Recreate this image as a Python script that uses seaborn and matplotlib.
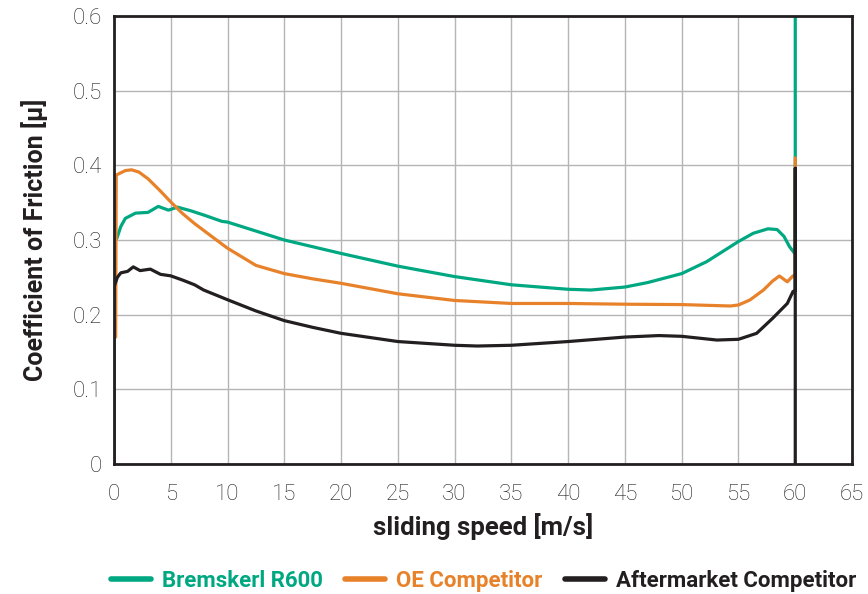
import pandas as pd
import matplotlib
matplotlib.use("Agg")
import matplotlib.pyplot as plt
import seaborn as sns
from matplotlib.ticker import FuncFormatter, MultipleLocator

r600_x = [0.25, 0.6, 1.0, 1.9, 3.0, 3.9, 4.8, 5.6, 6.8, 8.0, 9.5, 10.0, 12.5, 15, 17.5, 20,
          25, 30, 35, 40, 42, 45, 47, 50, 52.2, 55, 56.3, 57.6, 58.4, 59.0, 59.5, 59.9, 60, 60]
r600_y = [0.302, 0.318, 0.329, 0.336, 0.337, 0.345, 0.340, 0.344, 0.339, 0.333, 0.325, 0.324, 0.312, 0.300, 0.291, 0.282,
          0.265, 0.251, 0.240, 0.234, 0.233, 0.237, 0.243, 0.255, 0.271, 0.298, 0.309, 0.315, 0.314, 0.305, 0.291, 0.283, 0.282, 0.62]

oe_x = [0.15, 0.2, 0.6, 1.0, 1.55, 2.2, 3.0, 4.0, 5.0, 6.0, 7.1, 8.5, 10, 12.5, 15, 17.5, 20,
        25, 30, 35, 40, 45, 50, 54.3, 55, 56, 57.2, 58.0, 58.6, 59.3, 59.8, 60, 60]
oe_y = [0.17, 0.387, 0.390, 0.393, 0.394, 0.391, 0.382, 0.367, 0.351, 0.336, 0.322, 0.306, 0.289, 0.266, 0.255, 0.248, 0.242,
        0.228, 0.219, 0.215, 0.215, 0.214, 0.2135, 0.2116, 0.213, 0.2196, 0.233, 0.245, 0.2518, 0.244, 0.252, 0.253, 0.41]

am_x = [0, 0, 0.3, 0.6, 1.2, 1.7, 2.3, 3.2, 4.1, 5.0, 6.1, 7.1, 7.9, 10, 12.5, 15, 17.5, 20,
        25, 30, 32, 35, 40, 45, 48, 50, 53.1, 55, 56.6, 58, 59.3, 59.8, 60, 60, 60]
am_y = [0, 0.237, 0.250, 0.256, 0.258, 0.264, 0.259, 0.261, 0.254, 0.252, 0.246, 0.240, 0.233, 0.220, 0.205, 0.192, 0.183, 0.175,
        0.164, 0.159, 0.158, 0.159, 0.164, 0.170, 0.172, 0.171, 0.166, 0.167, 0.175, 0.195, 0.215, 0.231, 0.232, 0.396, 0]

names = ["Bremskerl R600", "OE Competitor", "Aftermarket Competitor"]
colors = ["#00a882", "#e8822a", "#231f20"]
x_ticks = list(range(0, 70, 5))

sns.set_style("white")
plt.rcParams["font.family"] = ["Roboto", "DejaVu Sans"]

fig = plt.figure(figsize=(8.68, 5.94), dpi=100)
ax = fig.add_axes([0.1313, 0.2189, 0.8503, 0.7541])

for name, xs, ys, c in zip(names, [r600_x, oe_x, am_x], [r600_y, oe_y, am_y], colors):
    df = pd.DataFrame({"x": xs, "y": ys})
    sns.lineplot(data=df, x="x", y="y", ax=ax, sort=False, estimator=None,
                 color=c, linewidth=2.3, label=name)

ax.set_xlim(0, 65)
ax.set_ylim(0, 0.6)
ax.set_xticks(x_ticks)
ax.yaxis.set_major_locator(MultipleLocator(0.1))
ax.yaxis.set_major_formatter(FuncFormatter(lambda v, p: f"{v:g}"))
ax.grid(True, color="#b5b5b5", linewidth=1)
ax.set_axisbelow(True)
for s in ax.spines.values():
    s.set_color("#231f20")
    s.set_linewidth(2)
ax.tick_params(direction="inout", length=11, width=1.5, color="#231f20",
               labelsize=16, labelcolor="#1e1e1e")
ax.tick_params(axis="x", pad=9)
ax.tick_params(axis="y", pad=3)
for lab in ax.get_xticklabels() + ax.get_yticklabels():
    lab.set_fontweight("light")

ax.set_xlabel("sliding speed [m/s]", fontsize=18.5, fontweight="bold", color="#231f20", labelpad=6)
ax.set_ylabel("Coefficient of Friction [µ]", fontsize=18, fontweight="bold", color="#231f20", labelpad=18)

ax.get_legend().remove()
handles, labels = ax.get_legend_handles_labels()
leg = fig.legend(handles, labels, loc="center", bbox_to_anchor=(0.557, 0.022), ncol=3,
                 frameon=False, handlelength=1.8, columnspacing=1.0,
                 handletextpad=0.5, labelcolor="linecolor",
                 prop={"weight": "bold", "size": 16})
for h in leg.get_lines():
    h.set_linewidth(4)

fig.savefig("out.png", dpi=100)
